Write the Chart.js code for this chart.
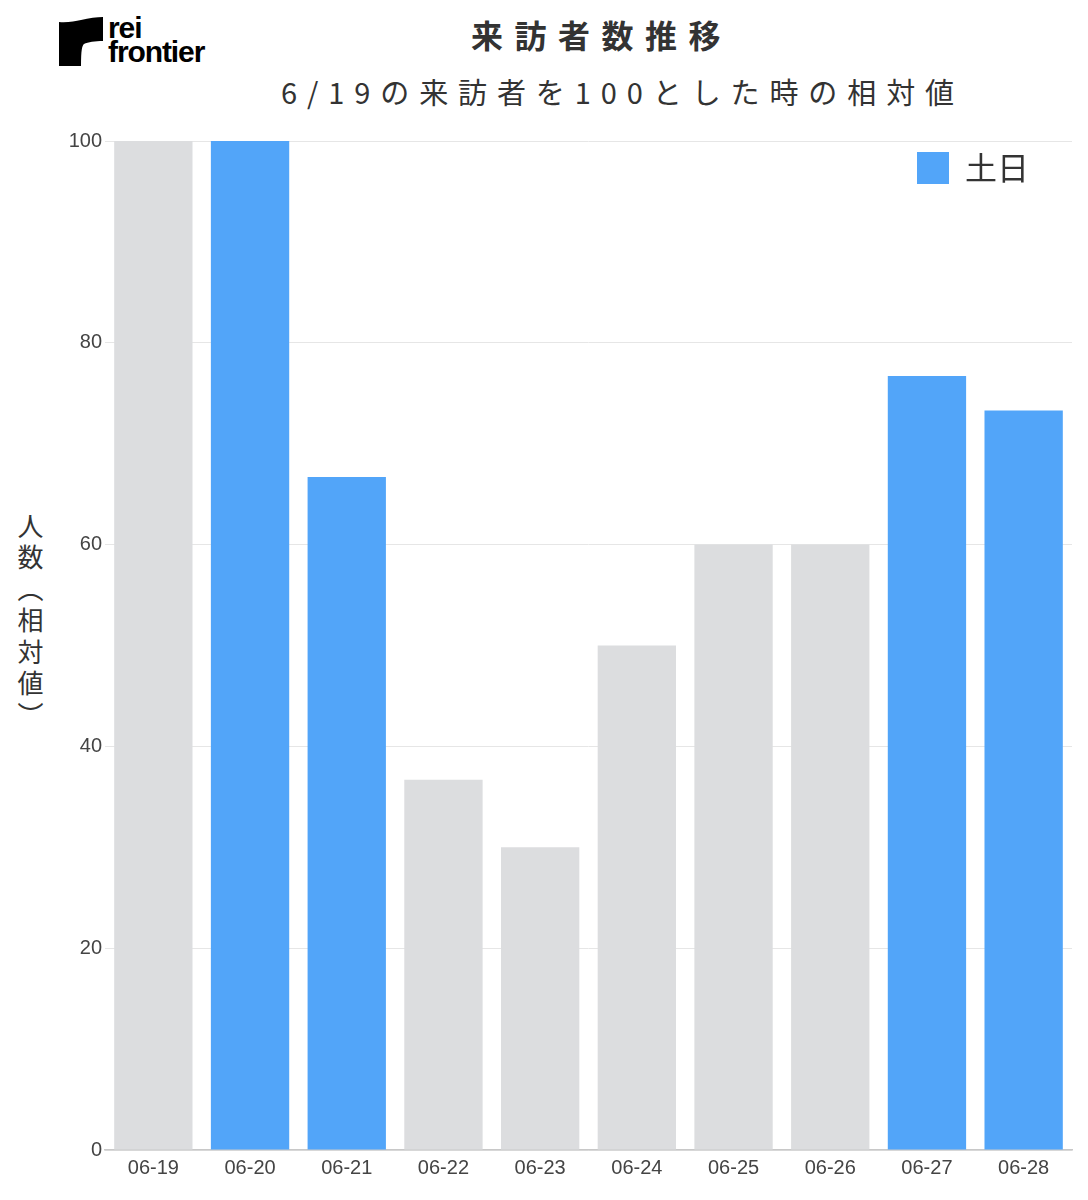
<!DOCTYPE html>
<html lang="ja">
<head>
<meta charset="utf-8">
<title>来訪者数推移</title>
<script src="https://cdn.jsdelivr.net/npm/chart.js@4"></script>
<style>
  html, body { margin: 0; padding: 0; background: #fff; overflow: hidden; }
  #wrap { position: relative; width: 1088px; height: 1200px; }
  #chart { position: absolute; left: 0; top: 0; }
  .logo { position: absolute; left: 59px; top: 17px; }
  .logo-text {
    position: absolute; left: 108px; top: 16px;
    font-family: "Liberation Sans", Arial, sans-serif; font-weight: bold;
    font-size: 30px; line-height: 24px; letter-spacing: -1.1px; color: #000;
  }
  .title {
    position: absolute; left: 471px; top: 12px; white-space: nowrap;
    font-family: "Noto Sans CJK JP", sans-serif; font-weight: bold;
    font-size: 32px; line-height: 44px; letter-spacing: 11.5px; color: #333;
  }
  .subtitle {
    position: absolute; left: 281px; top: 70px; white-space: nowrap;
    font-family: "Noto Sans CJK JP", sans-serif;
    font-size: 29px; line-height: 42px; letter-spacing: 9.9px; color: #333;
  }
  .ytitle {
    position: absolute; left: 15px; top: 513px;
    writing-mode: vertical-rl; text-orientation: mixed;
    font-family: "Noto Sans CJK JP", sans-serif;
    font-size: 26px; line-height: 30px; letter-spacing: 5.5px; color: #333;
  }
</style>
</head>
<body>
<div id="wrap">
  <svg class="logo" width="45" height="49" viewBox="0 0 45 49">
    <path d="M0 5 C8 6 16 4 22 3 C30 1 38 0 44 0 L44 24 C36 24 29 25 25 27 C23 29 22 33 22 49 L0 49 Z" fill="#000"/>
  </svg>
  <div class="logo-text">rei<br>frontier</div>
  <div class="title">来訪者数推移</div>
  <div class="subtitle">6/19の来訪者を100とした時の相対値</div>
  <div class="ytitle">人数（相対値）</div>
  <canvas id="chart" width="1088" height="1200"></canvas>
</div>
<script>
// data (6/19 = 100)
const dates = ['06-19', '06-20', '06-21', '06-22', '06-23', '06-24', '06-25', '06-26', '06-27', '06-28'];
const weekdayValues = [100, null, null, 36.7, 30, 50, 60, 60, null, null];
const weekendValues = [null, 100, 66.7, null, null, null, null, null, 76.7, 73.3];
const yTicks = [0, 20, 40, 60, 80, 100];

// the legend sits inside the plot, top right
const legendInside = {
    id: 'legendInside',
    afterLayout(chart) {
        const lg = chart.legend;
        if (!lg) return;
        const w = lg.width;
        lg.left = chart.chartArea.right - 166;
        lg.right = lg.left + w;
        lg.top = chart.chartArea.top;
    }
};

const ctx = document.getElementById('chart').getContext('2d');
const chart = new Chart(ctx, {
    type: 'bar',
    data: {
        labels: dates,
        datasets: [{
            label: '平日',
            data: weekdayValues,
            backgroundColor: '#dcdddf'
        }, {
            label: '土日',
            data: weekendValues,
            backgroundColor: '#52a5f9'
        }]
    },
    options: {
        responsive: false,
        animation: false,
        categoryPercentage: 0.9,
        barPercentage: 0.9,
        layout: { padding: { top: 141, right: 16, left: 0, bottom: 0 } },
        plugins: {
            title: { display: false },
            tooltip: { enabled: false },
            legend: {
                position: 'chartArea',
                align: 'start',
                labels: {
                    filter: item => item.text === '土日',
                    boxWidth: 32,
                    boxHeight: 32,
                    padding: 11,
                    color: '#333',
                    font: { family: '"Noto Sans CJK JP", sans-serif', size: 32 }
                }
            }
        },
        scales: {
            x: {
                stacked: true,
                grid: { display: false, drawTicks: false },
                border: { display: true, color: '#c8c8c8', width: 1.5 },
                ticks: {
                    padding: 6,
                    color: '#444',
                    font: { family: '"Liberation Sans", Arial, sans-serif', size: 20 }
                },
                afterFit(scale) { scale.height = 50; }
            },
            y: {
                stacked: true,
                min: 0,
                max: 100,
                afterBuildTicks(scale) { scale.ticks = yTicks.map(v => ({ value: v })); },
                grid: { color: '#e6e6e6', drawTicks: false },
                border: { display: false },
                ticks: {
                    padding: 3,
                    color: '#444',
                    font: { family: '"Liberation Sans", Arial, sans-serif', size: 20 }
                },
                afterFit(scale) { scale.width = 105; }
            }
        }
    },
    plugins: [legendInside]
});
</script>
</body>
</html>
